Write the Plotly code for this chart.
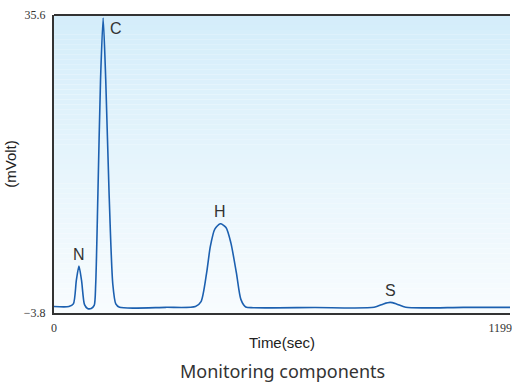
import plotly.graph_objects as go

# Data
time_s = [0, 40, 52, 60, 67, 74, 82, 90, 100, 108,
          112, 118, 125, 132, 139, 148, 158, 166, 176,
          300, 380, 395, 410, 420, 432, 447, 462, 475, 490, 502, 515, 535,
          700, 860, 885, 903, 920, 945, 1100, 1230]
signal_mv = [-2.95, -2.95, -2.6, 0.5, 2.4, 0.5, -2.7, -3.2, -3.2, -2.8,
             0.0, 12.0, 27.0, 35.2, 27.0, 12.0, 0.0, -2.6, -3.05,
             -3.05, -2.95, -2.3, 1.5, 5.0, 7.3, 8.0, 7.5, 5.5, 1.5, -2.0, -3.0, -3.1,
             -3.08, -3.05, -2.6, -2.4, -2.6, -3.05, -3.05, -3.05]

peak_labels = ["N", "C", "H", "S"]
peak_times = [67, 132, 447, 903]
peak_values = [2.4, 35.2, 8.0, -2.4]

y_ticks = [-3.8, 35.6]
y_tick_text = ["\u22123.8", "35.6"]
x_ticks = [0, 1199]
x_tick_text = ["0", "1199"]

X_MAX = 1225

fig = go.Figure()
fig.add_trace(go.Scatter(
    x=time_s, y=signal_mv, mode="lines",
    line=dict(color="#1c60b0", width=1.6, shape="spline", smoothing=0.7),
    hoverinfo="skip", showlegend=False,
))

# gradient background strips
shapes = []
n = 60
top = (212, 237, 250)
bot = (248, 252, 254)
for i in range(n):
    f = i / (n - 1)
    c = tuple(round(top[k] + (bot[k] - top[k]) * f) for k in range(3))
    shapes.append(dict(type="rect", xref="x domain", yref="y domain",
                       x0=0, x1=1, y0=1 - (i + 1) / n, y1=1 - i / n,
                       fillcolor="rgb(%d,%d,%d)" % c, line=dict(width=0), layer="below"))
# frame top line
shapes.append(dict(type="line", xref="x domain", yref="y domain", x0=0, x1=1, y0=1, y1=1,
                   line=dict(color="#333333", width=2)))

annotations = []
shifts = {"N": (0, 12), "C": (13, -10), "H": (0, 12), "S": (0, 12)}
for lab, t, v in zip(peak_labels, peak_times, peak_values):
    dx, dy = shifts[lab]
    annotations.append(dict(x=t, y=v, text=lab, showarrow=False, xshift=dx, yshift=dy,
                            font=dict(family="Liberation Sans, Arial", size=16, color="#333333")))
annotations.append(dict(xref="x domain", yref="paper", x=0.5, y=0, yshift=-58, yanchor="middle",
                        text="Monitoring components", showarrow=False,
                        font=dict(family="Noto Sans", size=18, color="#333333")))

fig.update_layout(
    width=512, height=383,
    margin=dict(l=54, r=0, t=15, b=70),
    paper_bgcolor="white", plot_bgcolor="white",
    shapes=shapes, annotations=annotations,
    xaxis=dict(range=[0, X_MAX], tickvals=x_ticks, ticktext=x_tick_text,
               showgrid=False, zeroline=False, showline=True, linecolor="#333333", linewidth=2,
               ticks="", ticklabelstandoff=3, ticklabeloverflow="allow",
               tickfont=dict(family="Liberation Sans Narrow, Arial Narrow", size=12, color="#333333"),
               title=dict(text="Time(sec)", standoff=3,
                          font=dict(family="Liberation Sans, Arial", size=15, color="#222222"))),
    yaxis=dict(range=[-3.8, 35.6], tickvals=y_ticks, ticktext=y_tick_text,
               showgrid=False, zeroline=False, showline=True, linecolor="#333333", linewidth=2,
               ticks="", ticklabelstandoff=4, ticklabeloverflow="allow",
               tickfont=dict(family="Liberation Sans Narrow, Arial Narrow", size=12, color="#333333"),
               title=dict(text="(mVolt)", standoff=4,
                          font=dict(family="Liberation Sans, Arial", size=15, color="#222222"))),
)

fig.write_html("out.html", config={"displayModeBar": False},
               post_script="document.body.style.margin='0';document.body.style.overflow='hidden';")
